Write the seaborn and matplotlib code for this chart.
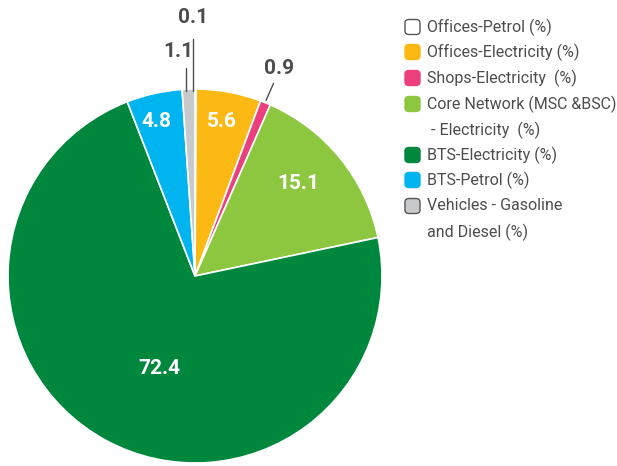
import numpy as np
import matplotlib
matplotlib.use("Agg")
import matplotlib.pyplot as plt
import seaborn as sns
from matplotlib.patches import FancyBboxPatch

# data
labels = ["Offices-Petrol (%)", "Offices-Electricity (%)", "Shops-Electricity  (%)",
          "Core Network (MSC &BSC)\n - Electricity  (%)", "BTS-Electricity (%)",
          "BTS-Petrol (%)", "Vehicles - Gasoline\nand Diesel (%)"]
values = [0.1, 5.6, 0.9, 15.1, 72.4, 4.8, 1.1]
colors = ["#FFFFFF", "#FDB913", "#EC3F7E", "#8DC63F", "#00873E", "#00B5EF", "#C8C9CB"]

sns.set_style("white")
plt.rcParams["font.family"] = ["Roboto", "DejaVu Sans"]
txt_col = "#4D4D4F"

W, H = 617, 466
fig = plt.figure(figsize=(W / 100, H / 100), dpi=100)
cx, cy, r = 195, 276, 187
ax = fig.add_axes([(cx - r) / W, (H - cy - r) / H, 2 * r / W, 2 * r / H])

wedges, _ = ax.pie(values, colors=colors, startangle=90, counterclock=False,
                   wedgeprops=dict(edgecolor="white", linewidth=1.2))
wedges[0].set_edgecolor("#BBBBBB")
wedges[0].set_linewidth(0.6)
ax.set_xlim(-1, 1)
ax.set_ylim(-1, 1)
ax.set_aspect("equal")
ax.axis("off")

# inside labels: (radius, angle clockwise from top)
inner = {1: (0.84, 10), 3: (0.74, 48), 4: (0.53, 201), 5: (0.85, 346)}
for i, (rr, a) in inner.items():
    ang = np.deg2rad(90 - a)
    ax.text(rr * np.cos(ang), rr * np.sin(ang), f"{values[i]}", color="white",
            fontsize=15, fontweight="bold", ha="center", va="center")

# outside labels with leader lines
outer = {0: ((-0.01, 1.38), [(-0.01, 1.27), (-0.01, 0.99)]),
         6: ((-0.09, 1.20), [(-0.05, 1.11), (-0.05, 0.99)]),
         2: ((0.45, 1.11), [(0.42, 1.03), (0.38, 0.94)])}
for i, (pos, line) in outer.items():
    ax.text(pos[0], pos[1], f"{values[i]}", color=txt_col, fontsize=15,
            fontweight="bold", ha="center", va="center", clip_on=False)
    ax.plot([line[0][0], line[1][0]], [line[0][1], line[1][1]], color=txt_col,
            lw=1, clip_on=False)

# legend
rows = [27, 52, 78, 104, 155, 180, 206]
for lab, col, y in zip(labels, colors, rows):
    ec = "#555555" if col in ("#FFFFFF", "#C8C9CB") else col
    box = FancyBboxPatch((405 / W, (H - y - 7.5) / H), 15 / W, 15 / H,
                         boxstyle="round,pad=0,rounding_size=0.007",
                         transform=fig.transFigure, facecolor=col, edgecolor=ec,
                         lw=1)
    fig.add_artist(box)
    for k, line in enumerate(lab.split("\n")):
        fig.text(427 / W, (H - y - 26 * k) / H, line, color=txt_col,
                 fontsize=11.5, ha="left", va="center")

fig.savefig("out.png", dpi=100)
